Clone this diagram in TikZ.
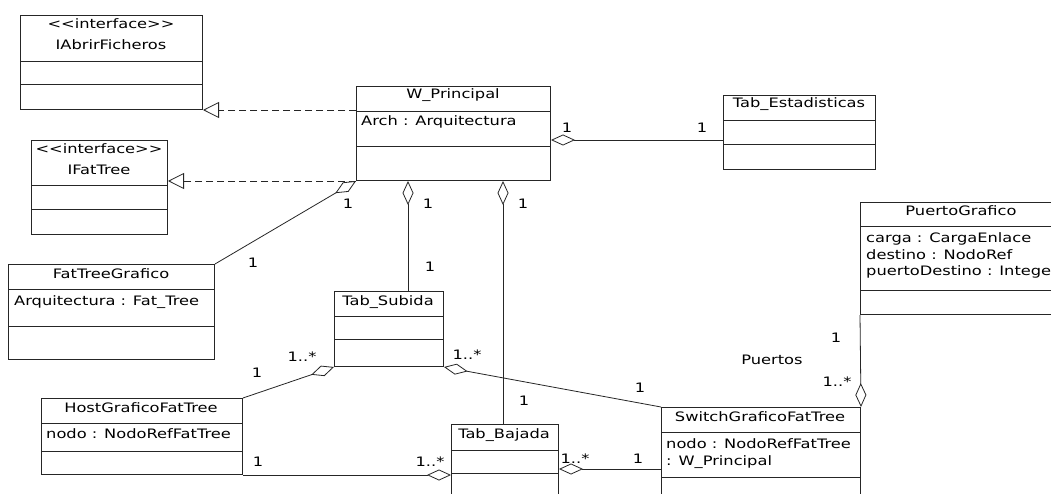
\documentclass[tikz,border=0pt]{standalone}
\usepackage{fontspec}
\setmainfont{DejaVu Sans}[FakeStretch=1.25]
\usetikzlibrary{arrows.meta}

\tikzset{
  umltxt/.style={inner sep=0pt, text=black, font=\fontsize{13}{16}\selectfont},
  cls/.style={draw=black!85, line width=1pt, fill=white, inner sep=0pt, anchor=north west},
  sepline/.style={draw=black!85, line width=1pt},
  ttl/.style={umltxt, anchor=base},
  attr/.style={umltxt, anchor=base west},
  mult/.style={umltxt},
  assoc/.style={draw=black!85, line width=0.8pt},
  agg/.style={assoc, {Diamond[open, length=24pt, width=11pt, fill=white, line width=0.8pt]}-},
  realize/.style={assoc, dash pattern=on 7pt off 4pt,
    -{Triangle[open, length=16pt, width=16pt, fill=white, line width=0.8pt]}},
}

% class box: name, left, top, width, height, first and second separator offsets
\newcommand\umlclass[7]{%
  \node[cls, minimum width=#4pt, minimum height=#5pt] (#1) at (#2,#3) {};
  \draw[sepline] ([yshift=-#6pt]#1.north west) -- ([yshift=-#6pt]#1.north east);
  \draw[sepline] ([yshift=-#7pt]#1.north west) -- ([yshift=-#7pt]#1.north east);
}

\begin{document}
\begin{tikzpicture}[x=1pt, y=-1pt]
\fill[white] (0,0) rectangle (1051,494);
\useasboundingbox (0,0) rectangle (1051,494);
\clip (0,0) rectangle (1051,494);

% classes
\umlclass{iab}{20}{15}{182}{94}{47}{70}
\umlclass{ift}{31}{140}{136}{94}{46}{70}
\umlclass{wp}{356}{86}{194}{94}{26}{61}
\umlclass{tes}{723}{95}{152}{74}{26}{50}
\umlclass{ftg}{8}{264}{206}{95}{25}{62}
\umlclass{tsu}{334}{291}{109}{75}{25}{48}
\umlclass{host}{41}{398}{201}{76}{25}{53}
\umlclass{tba}{451}{424}{107}{90}{26}{49}
\umlclass{sw}{661}{407}{199}{110}{25}{70}
\umlclass{pg}{860}{202}{220}{112}{25}{88}

% titles and attributes
\node[ttl] (iabs) at (111,29) {<{}<interface>{}>};
\node[ttl] (iabn) at (111,50) {IAbrirFicheros};
\node[ttl] (ifts) at (99,154) {<{}<interface>{}>};
\node[ttl] (iftn) at (99,175) {IFatTree};
\node[ttl] (wpn) at (453,99) {W\_Principal};
\node[attr] (wpa) at (361,126) {Arch : Arquitectura};
\node[ttl] (tesn) at (799,108) {Tab\_Estadisticas};
\node[ttl] (ftgn) at (111,278) {FatTreeGrafico};
\node[attr] (ftga) at (14,305) {Arquitectura : Fat\_Tree};
\node[ttl] (tsun) at (388,305) {Tab\_Subida};
\node[ttl] (hostn) at (141,412) {HostGraficoFatTree};
\node[attr] (hosta) at (46,438) {nodo : NodoRefFatTree};
\node[ttl] (tban) at (504,438) {Tab\_Bajada};
\node[ttl] (swn) at (760,421) {SwitchGraficoFatTree};
\node[attr] (swa1) at (666,448) {nodo : NodoRefFatTree};
\node[attr] (swa2) at (666,465) {: W\_Principal};
\node[ttl] (pgn) at (961,216) {PuertoGrafico};
\node[attr] (pga1) at (866,243) {carga : CargaEnlace};
\node[attr] (pga2) at (866,259) {destino : NodoRef};
\node[attr] (pga3) at (866,275) {puertoDestino : Intege};

% realizations
\draw[realize] (wp.west |- iab.south east) -- (iab.south east);
\draw[realize] (wp.south west) -- (ift.east |- wp.south west);

% aggregations
\coordinate (tesport) at ([yshift=-45pt]tes.north west);
\draw[agg] (wp.east |- tesport) -- (tesport);
\draw[agg] (wp.south west) -- (ftg.north east);
\coordinate (wpsub) at ([xshift=52pt]wp.south west);
\draw[agg] (wpsub) -- (tsu.north -| wpsub);
\coordinate (wpbaj) at ([xshift=147pt]wp.south west);
\draw[agg] (wpbaj) -- (tba.north -| wpbaj);
\draw[agg] (tsu.south west) -- (host.north east);
\draw[agg] (tba.west |- host.south east) -- (host.south east);
\draw[agg] (tsu.south east) -- (sw.north west);
\coordinate (tbaport) at ([yshift=-45pt]tba.north east);
\draw[agg] (tbaport) -- (sw.west |- tbaport);
\draw[agg] (sw.north east) -- (pg.south west);

% multiplicities and role names
\node[mult] (m1) at (567,128) {1};
\node[mult] (m2) at (702,128) {1};
\node[mult] (m3) at (348,204) {1};
\node[mult] (m4) at (253,263) {1};
\node[mult] (m5) at (428,204) {1};
\node[mult] (m6) at (523,204) {1};
\node[mult] (m7) at (430,267) {1};
\node[mult] (m8) at (302,357) {1..*};
\node[mult] (m9) at (257,373) {1};
\node[mult] (m10) at (258,462) {1};
\node[mult] (m11) at (430,462) {1..*};
\node[mult] (m12) at (467,355) {1..*};
\node[mult] (m13) at (640,388) {1};
\node[mult] (m14) at (524,401) {1};
\node[mult] (m15) at (575,459) {1..*};
\node[mult] (m16) at (638,459) {1};
\node[mult] (m17) at (836,338) {1};
\node[mult] (m18) at (772,360) {Puertos};
\node[mult] (m19) at (837,382) {1..*};
\end{tikzpicture}
\end{document}
